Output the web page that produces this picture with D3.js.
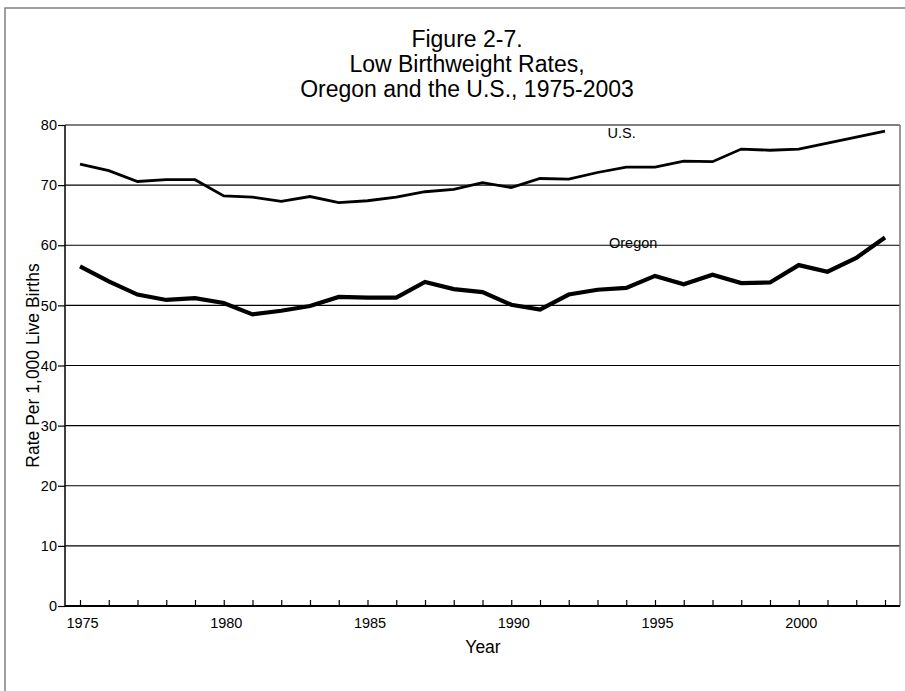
<!DOCTYPE html>
<html>
<head>
<meta charset="utf-8">
<script src="https://cdn.jsdelivr.net/npm/d3@7"></script>
<style>
  body { margin: 0; background: #fff; }
  svg { display: block; font-family: "Liberation Sans", Arial, sans-serif; }
</style>
</head>
<body>
<svg id="chart"></svg>
<script>
// years on the x axis
var years = [1975, 1976, 1977, 1978, 1979, 1980, 1981, 1982, 1983, 1984,
             1985, 1986, 1987, 1988, 1989, 1990, 1991, 1992, 1993, 1994,
             1995, 1996, 1997, 1998, 1999, 2000, 2001, 2002, 2003];

// low birthweight rate per 1,000 live births
var usRates = [73.5, 72.4, 70.6, 70.9, 70.9, 68.2, 68.0, 67.3, 68.1, 67.1,
               67.4, 68.0, 68.9, 69.3, 70.4, 69.6, 71.1, 71.0, 72.1, 73.0,
               73.0, 74.0, 73.9, 76.0, 75.8, 76.0, 77.0, 78.0, 79.0];

var oregonRates = [56.5, 54.0, 51.8, 50.9, 51.2, 50.4, 48.5, 49.1, 49.9, 51.4,
                   51.3, 51.3, 53.9, 52.7, 52.2, 50.1, 49.3, 51.8, 52.6, 52.9,
                   54.9, 53.5, 55.1, 53.7, 53.8, 56.7, 55.6, 57.9, 61.3];

var yTicks = [0, 10, 20, 30, 40, 50, 60, 70, 80];
var xLabels = [1975, 1980, 1985, 1990, 1995, 2000];
var titleLines = ["Figure 2-7.", "Low Birthweight Rates,", "Oregon and the U.S., 1975-2003"];

var width = 905;
var height = 691;
var plot = { left: 65, right: 900, top: 125, bottom: 606 };

var svg = d3.select("#chart")
            .attr("width", width)
            .attr("height", height);

// outer gray frame
svg.append("rect")
    .attr("x", 5)
    .attr("y", 8)
    .attr("width", width + 10)
    .attr("height", height + 10)
    .attr("fill", "none")
    .attr("stroke", "#808080")
    .attr("stroke-width", 1.5);

var xScale = d3.scaleLinear()
               .domain([1975, 2003])
               .range([80, 885]);

var yScale = d3.scaleLinear()
               .domain([0, 80])
               .range([plot.bottom, plot.top]);

// title
svg.append("text")
    .attr("x", 467)
    .attr("y", 47)
    .attr("text-anchor", "middle")
    .style("font-size", "23px")
  .selectAll("tspan")
  .data(titleLines)
  .enter()
  .append("tspan")
    .attr("x", 467)
    .attr("dy", (d, i) => i === 0 ? 0 : 25)
    .text(d => d);

// horizontal gridlines
svg.append("g")
  .selectAll("line")
  .data(yTicks.filter(d => d > 0))
  .enter()
  .append("line")
    .attr("x1", plot.left)
    .attr("x2", plot.right)
    .attr("y1", d => yScale(d))
    .attr("y2", d => yScale(d))
    .attr("stroke", "#000")
    .attr("stroke-width", 1.2);

// right border
svg.append("line")
    .attr("x1", plot.right)
    .attr("x2", plot.right)
    .attr("y1", plot.top)
    .attr("y2", plot.bottom)
    .attr("stroke", "#777")
    .attr("stroke-width", 1.5);

// y axis
var yAxis = d3.axisLeft(yScale)
              .tickValues(yTicks)
              .tickSize(7)
              .tickSizeOuter(0)
              .tickPadding(1);

var yG = svg.append("g")
    .attr("transform", "translate(" + plot.left + ",0)")
    .call(yAxis);

yG.select(".domain").remove();
yG.selectAll(".tick line").attr("stroke-width", 1.2);
yG.selectAll(".tick text")
    .attr("fill", "#000")
    .style("font-size", "14.5px")
    .style("font-family", "'Liberation Sans', Arial, sans-serif");

svg.append("line")
    .attr("x1", plot.left)
    .attr("x2", plot.left)
    .attr("y1", plot.top)
    .attr("y2", plot.bottom)
    .attr("stroke", "#000")
    .attr("stroke-width", 1.5);

// x axis, ticks every year pointing up
var xAxis = d3.axisBottom(xScale)
              .tickValues(years)
              .tickSize(-6)
              .tickSizeOuter(0)
              .tickPadding(12)
              .tickFormat(d => xLabels.indexOf(d) >= 0 ? d : "");

var xG = svg.append("g")
    .attr("transform", "translate(0," + plot.bottom + ")")
    .call(xAxis);

xG.select(".domain").remove();
xG.selectAll(".tick line").attr("stroke-width", 1.2);
xG.selectAll(".tick text")
    .attr("fill", "#000")
    .attr("dx", 2)
    .style("font-size", "14.5px")
    .style("font-family", "'Liberation Sans', Arial, sans-serif");

svg.append("line")
    .attr("x1", plot.left)
    .attr("x2", plot.right)
    .attr("y1", plot.bottom)
    .attr("y2", plot.bottom)
    .attr("stroke", "#000")
    .attr("stroke-width", 2);

// axis titles
svg.append("text")
    .attr("x", 483)
    .attr("y", 653)
    .attr("text-anchor", "middle")
    .style("font-size", "17.5px")
    .text("Year");

svg.append("text")
    .attr("transform", "translate(39," + ((plot.top + plot.bottom) / 2) + ") rotate(-90)")
    .attr("text-anchor", "middle")
    .style("font-size", "17.5px")
    .text("Rate Per 1,000 Live Births");

// lines
var line = d3.line()
             .x((d, i) => xScale(years[i]))
             .y(d => yScale(d));

svg.append("path")
    .datum(usRates)
    .attr("d", line)
    .attr("fill", "none")
    .attr("stroke", "#000")
    .attr("stroke-width", 2.8);

svg.append("path")
    .datum(oregonRates)
    .attr("d", line)
    .attr("fill", "none")
    .attr("stroke", "#000")
    .attr("stroke-width", 4.2);

// series labels
svg.append("text")
    .attr("x", xScale(1993.35))
    .attr("y", yScale(77.8))
    .style("font-size", "14.5px")
    .text("U.S.");

svg.append("text")
    .attr("x", xScale(1993.4))
    .attr("y", yScale(59.6))
    .style("font-size", "14.5px")
    .text("Oregon");
</script>
</body>
</html>
